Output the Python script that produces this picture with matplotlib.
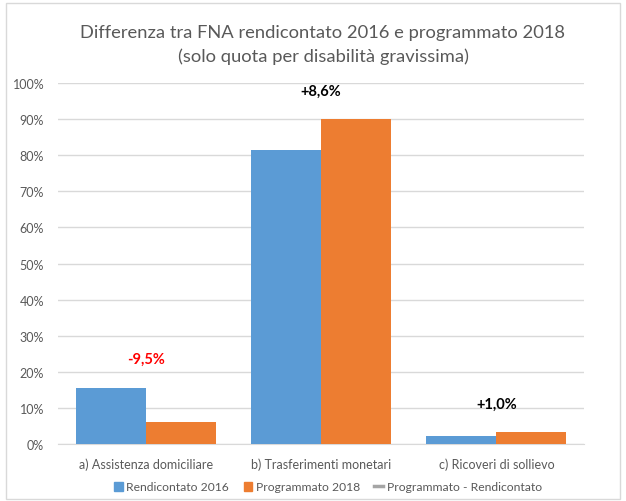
import matplotlib.pyplot as plt
import numpy as np
from matplotlib.lines import Line2D
from matplotlib.patches import Patch, Rectangle

categories = ["a) Assistenza domiciliare", "b) Trasferimenti monetari", "c) Ricoveri di sollievo"]
rendicontato_2016 = [15.6, 81.4, 2.3]
programmato_2018 = [6.1, 90.0, 3.3]
differenza_labels = ["-9,5%", "+8,6%", "+1,0%"]
differenza_colors = ["#FF0000", "#000000", "#000000"]
yticks = list(range(0, 101, 10))

plt.rcParams['font.family'] = ['Lato', 'DejaVu Sans']

fig = plt.figure(figsize=(6.26, 5.02), dpi=100)
ax = fig.add_axes([58 / 626, 1 - 445 / 502, (584 - 58) / 626, (445 - 84) / 502])

# chart frame
fig.patches.append(Rectangle((6 / 626, 2 / 502), 614 / 626, 496 / 502, transform=fig.transFigure,
                             fill=False, edgecolor="#D9D9D9", linewidth=1))

x = np.arange(len(categories))
w = 0.4
ax.bar(x - w / 2, rendicontato_2016, w, color="#5B9BD5", zorder=3)
ax.bar(x + w / 2, programmato_2018, w, color="#ED7D31", zorder=3)

for i in range(len(categories)):
    top = max(rendicontato_2016[i], programmato_2018[i])
    ax.text(x[i], top + 6, differenza_labels[i], ha="center", va="bottom",
            fontsize=10.5, fontweight="bold", color=differenza_colors[i])

ax.set_xlim(-0.5, 2.5)
ax.set_ylim(0, 100)
ax.set_yticks(yticks)
ax.set_yticklabels([f"{t}%" for t in yticks])
ax.set_xticks(x)
ax.set_xticklabels(categories)
ax.tick_params(axis="both", length=0, colors="#595959", labelsize=9)
ax.tick_params(axis="x", pad=10)
ax.tick_params(axis="y", pad=10)
ax.grid(axis="y", color="#D9D9D9", linewidth=1, zorder=0)
for s in ["top", "right", "left"]:
    ax.spines[s].set_visible(False)
ax.spines["bottom"].set_color("#D9D9D9")

fig.text(323 / 626, 1 - 33 / 502, "Differenza tra FNA rendicontato 2016 e programmato 2018",
         ha="center", va="center", fontsize=13.2, color="#595959")
fig.text(323 / 626, 1 - 57 / 502, "(solo quota per disabilità gravissima)",
         ha="center", va="center", fontsize=13.2, color="#595959")

handles = [Patch(color="#5B9BD5", label="Rendicontato 2016"),
           Patch(color="#ED7D31", label="Programmato 2018"),
           Line2D([], [], color="#A5A5A5", linewidth=2.5, label="Programmato - Rendicontato")]
leg = fig.legend(handles=handles, loc="center", bbox_to_anchor=(328 / 626, 1 - 488 / 502), ncol=3,
                 frameon=False, fontsize=8.7, handlelength=0.7, handleheight=0.7,
                 handletextpad=0.3, columnspacing=1.2)
for t in leg.get_texts():
    t.set_color("#595959")

plt.savefig("out.png", dpi=100)
